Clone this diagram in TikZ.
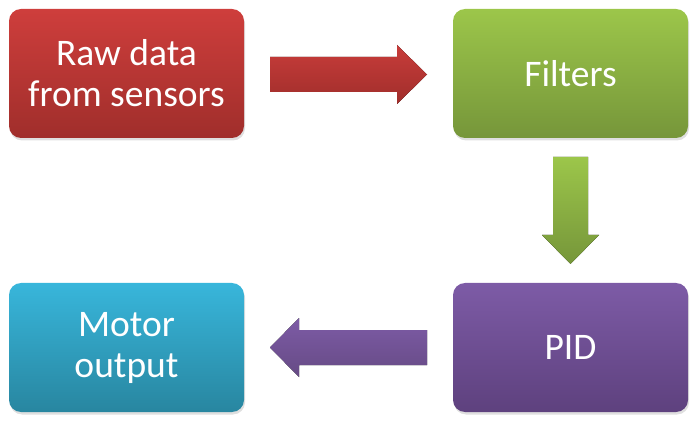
\documentclass[tikz,border=0pt]{standalone}
\usepackage{fontspec}
\setmainfont{Carlito}
\usetikzlibrary{shadows}
\definecolor{redT}{HTML}{CE3E3C}
\definecolor{redB}{HTML}{A02E2B}
\definecolor{greenT}{HTML}{9CC64A}
\definecolor{greenB}{HTML}{76963A}
\definecolor{purpT}{HTML}{7D5BA6}
\definecolor{purpB}{HTML}{5E417E}
\definecolor{blueT}{HTML}{38B6DB}
\definecolor{blueB}{HTML}{2886A0}
\tikzset{
  blockbox/.style={rounded corners=12pt, minimum width=235pt, minimum height=129pt,
    inner sep=0pt, text=white, align=center,
    font=\fontsize{37.5}{41}\selectfont,
    drop shadow={opacity=0.25, shadow xshift=1pt, shadow yshift=-2.5pt}}
}
\begin{document}
\begin{tikzpicture}[x=1pt,y=-1pt]
\useasboundingbox (0,0) rectangle (691,422);
% boxes
\node[blockbox, top color=redT, bottom color=redB] (raw) at (126.5,73.5) {Raw data\\from sensors};
\node[blockbox, top color=greenT, bottom color=greenB] (filt) at (570.5,73.5) {Filters};
\node[blockbox, top color=purpT, bottom color=purpB] (pid) at (570.5,347.5) {PID};
\node[blockbox, top color=blueT, bottom color=blueB] (mot) at (126.5,347.5) {Motor\\output};
% arrow: raw -> filters
\coordinate (a1t) at (427,74.5);
\fill[top color=redT!97!black, bottom color=redB]
  (270,57) -- (397,57) -- (397,45) -- (a1t) -- (397,104) -- (397,92) -- (270,92) -- cycle;
% arrow: filters -> pid
\coordinate (a2t) at (570.5,264);
\fill[top color=greenT, bottom color=greenB]
  (553,157) -- (588,157) -- (588,235) -- (599,235) -- (a2t) -- (542,235) -- (553,235) -- cycle;
% arrow: pid -> motor
\coordinate (a3t) at (270,347.5);
\fill[top color=purpT, bottom color=purpB!95!white]
  (427,330) -- (299,330) -- (299,318) -- (a3t) -- (299,377) -- (299,365) -- (427,365) -- cycle;
\end{tikzpicture}
\end{document}
